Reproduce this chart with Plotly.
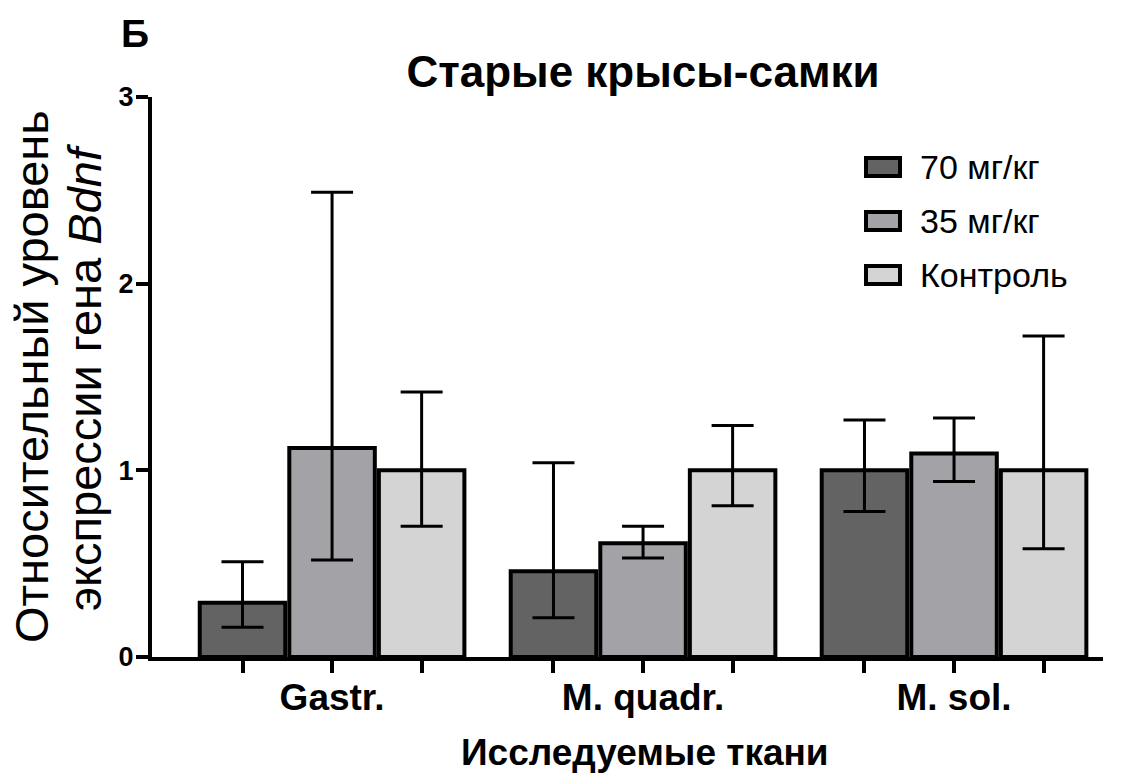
import plotly.graph_objects as go

# Tissues and treatment groups
tissues = ["Gastr.", "M. quadr.", "M. sol."]
groups = ["70 мг/кг", "35 мг/кг", "Контроль"]

# Mean relative Bdnf expression per group (one value per tissue)
mean_70 = [0.29, 0.46, 1.00]
mean_35 = [1.12, 0.61, 1.09]
mean_ctrl = [1.00, 1.00, 1.00]

# Upper and lower ends of the error bars
upper_70 = [0.51, 1.04, 1.27]
lower_70 = [0.16, 0.21, 0.78]
upper_35 = [2.49, 0.70, 1.28]
lower_35 = [0.52, 0.53, 0.94]
upper_ctrl = [1.42, 1.24, 1.72]
lower_ctrl = [0.70, 0.81, 0.58]

y_ticks = [0, 1, 2, 3]

means = [mean_70, mean_35, mean_ctrl]
uppers = [upper_70, upper_35, upper_ctrl]
lowers = [lower_70, lower_35, lower_ctrl]
colors = ["#636363", "#a3a2a6", "#d4d4d4"]
offsets = [-0.288, 0.0, 0.288]
bar_width = 0.275

FONT = "Arial, Liberation Sans, sans-serif"
W, H = 1127, 778
ML, MR, MT, MB = 152, 24, 97, 121
PW, PH = W - ML - MR, H - MT - MB


def px_x(px):
    return (px - ML) / PW


def px_y(py):
    return 1 - (py - MT) / PH


fig = go.Figure()
for name, vals, up, lo, col, off in zip(groups, means, uppers, lowers, colors, offsets):
    xs = [i + off for i in range(len(tissues))]
    fig.add_trace(go.Bar(
        x=xs, y=vals, width=bar_width, name=name,
        marker=dict(color=col, line=dict(color="black", width=4)),
        error_y=dict(
            type="data", symmetric=False,
            array=[u - v for u, v in zip(up, vals)],
            arrayminus=[v - l for v, l in zip(vals, lo)],
            color="black", thickness=3, width=21,
        ),
        showlegend=False,
    ))

# A tick under every bar; the tissue name sits under the middle bar of each group
tick_pairs = sorted(
    [(i + off, tissues[i] if off == 0 else "") for i in range(len(tissues)) for off in offsets]
)
tickvals = [p[0] for p in tick_pairs]
ticktext = [p[1] for p in tick_pairs]

fig.update_layout(
    width=W, height=H,
    margin=dict(l=ML, r=MR, t=MT, b=MB),
    plot_bgcolor="white", paper_bgcolor="white",
    barmode="overlay",
    font=dict(family=FONT, color="black"),
    title=dict(
        text="Старые крысы-самки", x=643 / W, xanchor="center",
        y=1 - 72 / H, yanchor="middle",
        font=dict(size=44, family=FONT, weight="bold", color="black"),
    ),
    xaxis=dict(
        range=[-0.579, 2.479], showgrid=False, zeroline=False,
        showline=True, linecolor="black", linewidth=4,
        ticks="outside", ticklen=12, tickwidth=4, tickcolor="black",
        tickvals=tickvals, ticktext=ticktext, ticklabelstandoff=-7,
        tickfont=dict(size=37, family=FONT, weight="bold", color="black"),
    ),
    yaxis=dict(
        range=[0, 3], showgrid=False, zeroline=False,
        showline=True, linecolor="black", linewidth=4,
        ticks="outside", ticklen=12, tickwidth=4, tickcolor="black",
        tickvals=y_ticks, ticktext=[str(t) for t in y_ticks], ticklabelstandoff=-3,
        tickfont=dict(size=27, family=FONT, weight="bold", color="black"),
    ),
)

# X-axis title
fig.add_annotation(
    text="Исследуемые ткани", showarrow=False, xref="paper", yref="paper",
    x=px_x(645), y=px_y(752), xanchor="center", yanchor="middle",
    font=dict(size=37, family=FONT, weight="bold", color="black"),
)

# Y-axis title in two lines
y_title_lines = ["Относительный уровень", "экспрессии гена <i>Bdnf</i>"]
for line, cx in zip(y_title_lines, [31, 84]):
    fig.add_annotation(
        text=line, textangle=-90, showarrow=False,
        xref="paper", yref="paper", x=px_x(cx), y=px_y(377),
        xanchor="center", yanchor="middle",
        font=dict(size=47, family=FONT, color="black"),
    )

# Panel letter
fig.add_annotation(
    text="Б", showarrow=False, xref="paper", yref="paper",
    x=px_x(135), y=px_y(34), xanchor="center", yanchor="middle",
    font=dict(size=39, family=FONT, weight="bold", color="black"),
)

# Legend drawn as framed swatches with labels
for i, (name, col) in enumerate(zip(groups, colors)):
    cy = 167 + 54 * i
    fig.add_shape(
        type="rect", xref="paper", yref="paper",
        x0=px_x(866), x1=px_x(900), y0=px_y(cy + 9), y1=px_y(cy - 9),
        fillcolor=col, line=dict(color="black", width=4),
    )
    fig.add_annotation(
        text=name, showarrow=False, xref="paper", yref="paper",
        x=px_x(918), y=px_y(cy), xanchor="left", yanchor="middle",
        font=dict(size=34, family=FONT, color="black"),
    )

fig.write_html("out.html")
